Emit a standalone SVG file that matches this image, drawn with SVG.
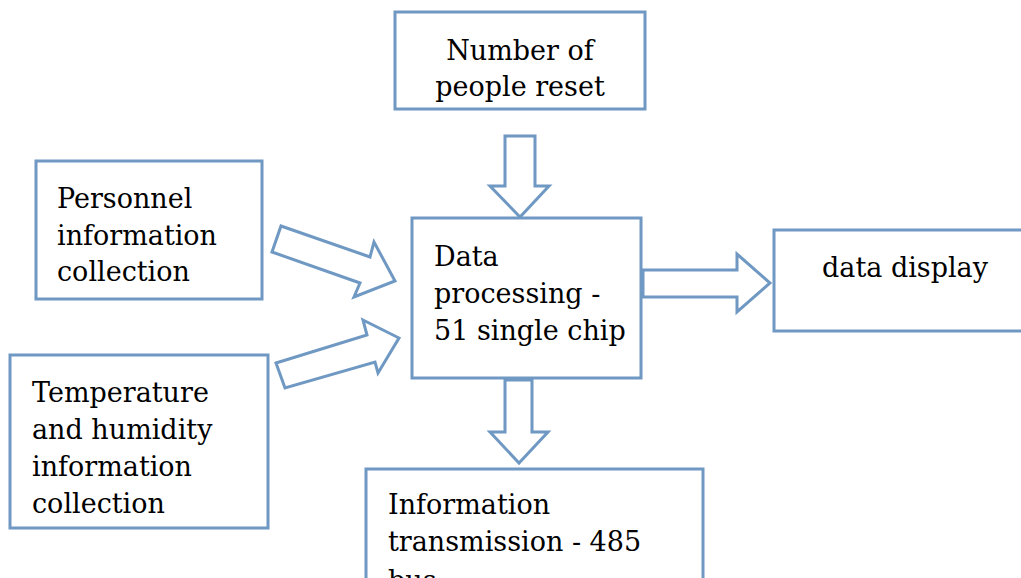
<svg xmlns="http://www.w3.org/2000/svg" width="1021" height="578" viewBox="0 0 1021 578">
<style>
.box{fill:#fff;stroke:#6F98C3;stroke-width:3}
.arr{fill:#fff;stroke:#6F98C3;stroke-width:3;stroke-linejoin:miter}
text{font-family:"DejaVu Serif","Liberation Serif",serif;font-size:27px;fill:#000}
</style>
<rect width="1021" height="578" fill="#fff"/>
<g id="connectors">
<polygon class="arr" points="505,136 535,136 535,186 549,186 520,217 490,186 505,186"/>
<polygon class="arr" points="272,252 281,226 370,257 374,242 395,281 354,297 360,283"/>
<polygon class="arr" points="276,363 367,335 363,320 399,338 378,373 375,362 285,388"/>
<polygon class="arr" points="643,270 737,270 737,254 770,283 737,312 737,297 643,297"/>
<polygon class="arr" points="505,380 532,380 532,432 548,432 519,463 490,432 505,432"/>
</g>
<g id="node-reset">
<rect class="box" x="395" y="12" width="250" height="97"/>
<text x="520" y="60" text-anchor="middle">Number of</text>
<text x="520" y="96" text-anchor="middle">people reset</text>
</g>
<g id="node-personnel">
<rect class="box" x="36" y="161" width="226" height="138"/>
<text x="57" y="208">Personnel</text>
<text x="57" y="245">information</text>
<text x="57" y="281">collection</text>
</g>
<g id="node-temperature">
<rect class="box" x="10" y="355" width="258" height="173"/>
<text x="32" y="402">Temperature</text>
<text x="32" y="439">and humidity</text>
<text x="32" y="476">information</text>
<text x="32" y="513">collection</text>
</g>
<g id="node-processing">
<rect class="box" x="412" y="218" width="229" height="160"/>
<text x="434" y="266">Data</text>
<text x="434" y="303">processing -</text>
<text x="434" y="340">51 single chip</text>
</g>
<g id="node-display">
<rect class="box" x="774" y="230" width="260" height="101"/>
<text x="822" y="277">data display</text>
</g>
<g id="node-transmission">
<rect class="box" x="366" y="469" width="337" height="130"/>
<text x="388" y="514">Information</text>
<text x="388" y="551">transmission - 485</text>
<text x="388" y="590">bus</text>
</g>
</svg>
